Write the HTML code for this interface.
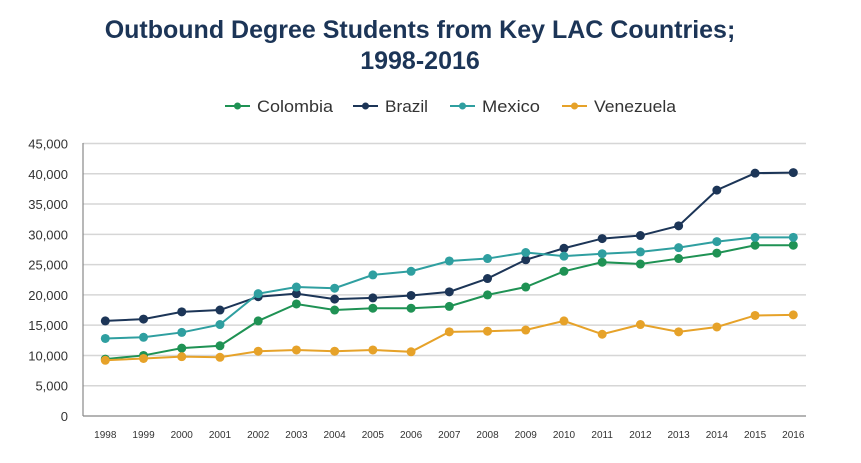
<!DOCTYPE html>
<html><head><meta charset="utf-8"><style>
body{margin:0;background:#fff;width:861px;height:458px;overflow:hidden;font-family:"Liberation Sans",sans-serif}
</style></head><body>
<svg width="861" height="458">
<text x="420" y="38" text-anchor="middle" font-size="25" font-weight="bold" fill="#1c3557">Outbound Degree Students from Key LAC Countries;</text>
<text x="420" y="69" text-anchor="middle" font-size="25" font-weight="bold" fill="#1c3557">1998-2016</text>
<g id="legend"></g>
<g id="grid"></g>
<g id="series"></g>
</svg>
<script>
const years=[1998,1999,2000,2001,2002,2003,2004,2005,2006,2007,2008,2009,2010,2011,2012,2013,2014,2015,2016];
const yTicks=[0,5000,10000,15000,20000,25000,30000,35000,40000,45000];
const colombia=[9400,10000,11200,11600,15700,18500,17500,17800,17800,18100,20000,21300,23900,25400,25100,26000,26900,28200,28200];
const brazil=[15700,16000,17200,17500,19700,20200,19300,19500,19900,20500,22700,25800,27700,29300,29800,31400,37300,40100,40200];
const mexico=[12800,13000,13800,15100,20200,21300,21100,23300,23900,25600,26000,27000,26400,26800,27100,27800,28800,29500,29500];
const venezuela=[9200,9500,9800,9700,10700,10900,10700,10900,10600,13900,14000,14200,15700,13500,15100,13900,14700,16600,16700];
const seriesNames=["Colombia","Brazil","Mexico","Venezuela"];
const seriesData=[colombia,brazil,mexico,venezuela];
const colors=["#1f9254","#1c3557","#2f9fa0","#e6a229"];
const NS="http://www.w3.org/2000/svg";
function X(i){return 105.3+i*(793.3-105.3)/(years.length-1);}
function Y(v){return 416-v*(416-143.5)/45000;}
function mk(t,a,p){const e=document.createElementNS(NS,t);for(const k in a)e.setAttribute(k,a[k]);p.appendChild(e);return e;}
const grid=document.getElementById('grid');
yTicks.forEach(v=>{
 const l=mk('line',{x1:83,x2:806,y1:Y(v),y2:Y(v),stroke:v===0?'#888':'#d6d6d6','stroke-width':v===0?1.2:1.5},grid);
 
 
 const t=mk('text',{x:68,y:Y(v)+5,'text-anchor':'end','font-size':13,fill:'#333'},grid);
 t.textContent=v.toLocaleString('en-US');
 
 
});
const ax=mk('line',{x1:83,x2:83,y1:143,y2:416,stroke:'#888','stroke-width':1.2},grid);


years.forEach((y,i)=>{
 const t=mk('text',{x:X(i),y:438,'text-anchor':'middle','font-size':10,fill:'#333'},grid);
 t.textContent=y;
 
 
});
const sg=document.getElementById('series');
seriesData.forEach((d,s)=>{
 const g=mk('g',{},sg);
 
 
 const pl=mk('polyline',{points:d.map((v,i)=>X(i)+','+Y(v)).join(' '),fill:'none',stroke:colors[s],'stroke-width':2},g);
 
 
 d.forEach((v,i)=>{
  const c=mk('circle',{cx:X(i),cy:Y(v),r:4.5,fill:colors[s]},g);
  
  
 });
});
const lg=document.getElementById('legend');
const lx=[225,353,450,562];
const tw=[76,43,58,82];
seriesNames.forEach((n,s)=>{
 const g=mk('g',{},lg);
 
 
 mk('line',{x1:lx[s],x2:lx[s]+25,y1:106,y2:106,stroke:colors[s],'stroke-width':2},g);
 mk('circle',{cx:lx[s]+12.5,cy:106,r:3.5,fill:colors[s]},g);
 const t=mk('text',{x:lx[s]+32,y:112,'font-size':17,fill:'#333',textLength:tw[s],lengthAdjust:'spacingAndGlyphs'},g);
 t.textContent=n;
});
</script>
</body></html>
